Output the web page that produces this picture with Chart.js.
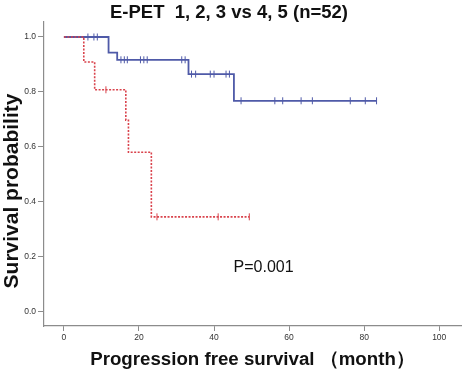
<!DOCTYPE html>
<html>
<head>
<meta charset="utf-8">
<script src="https://cdn.jsdelivr.net/npm/chart.js@4.4.0/dist/chart.umd.min.js"></script>
<style>
html, body { margin: 0; padding: 0; background: #ffffff; }
#wrap { width: 466px; height: 376px; }
</style>
</head>
<body>
<div id="wrap"><canvas id="graficoKM"></canvas></div>
<script>
// textos
const tituloGrafico = 'E-PET  1, 2, 3 vs 4, 5 (n=52)';
const rotuloX = 'Progression free survival \uFF08month\uFF09';
const rotuloY = 'Survival probability';
const textoP = 'P=0.001';

const ticksX = [0, 20, 40, 60, 80, 100];
const ticksY = [0, 0.2, 0.4, 0.6, 0.8, 1.0];

// grupo 1, 2, 3 (azul)
const azulTempoEvento = [0, 11.9, 14.2, 33.2, 45.3];
const azulSobrevivencia = [1.0, 0.943, 0.917, 0.865, 0.768];
const azulCensura = [6.4, 8.0, 8.9, 15.2, 16.1, 16.9, 20.4, 21.3, 22.2, 31.4, 32.3,
    34.0, 35.1, 39.0, 40.0, 43.2, 44.1, 47.2, 56.2, 58.3, 63.2, 66.2, 76.3, 80.3, 83.3];

// grupo 4, 5 (vermelho)
const vermTempoEvento = [0, 5.3, 8.2, 16.5, 17.2, 23.3];
const vermSobrevivencia = [1.0, 0.909, 0.808, 0.697, 0.581, 0.346];
const vermCensura = [11.2, 24.8, 41.1, 49.4];

const corAzul = '#4f5aa8';
const corVerm = '#d9434c';
const fonte = '"Liberation Sans", Arial, sans-serif';

function sobrevivenciaEm(tempos, valores, t) {
    let s = valores[0];
    for (let i = 0; i < tempos.length; i++) {
        if (tempos[i] <= t) s = valores[i];
    }
    return s;
}

function curvaDegraus(tempos, valores, censuras) {
    const pontos = tempos.map((t, i) => ({ x: t, y: valores[i] }));
    const fim = Math.max(...censuras);
    if (fim > tempos[tempos.length - 1]) {
        pontos.push({ x: fim, y: valores[valores.length - 1] });
    }
    return pontos;
}

function pontosCensura(tempos, valores, censuras) {
    return censuras.map(t => ({ x: t, y: sobrevivenciaEm(tempos, valores, t) }));
}

const pluginTextos = {
    id: 'textos',
    afterDraw(chart) {
        const ctx = chart.ctx;
        ctx.save();
        ctx.fillStyle = '#111111';
        ctx.font = 'bold 18.5px ' + fonte;
        ctx.textAlign = 'center';
        ctx.textBaseline = 'middle';
        ctx.fillText(tituloGrafico, 229, 13);

        // rotulo do eixo Y
        ctx.save();
        ctx.translate(12, 191);
        ctx.rotate(-Math.PI / 2);
        ctx.font = 'bold 21px ' + fonte;
        ctx.fillText(rotuloY, 0, 0);
        ctx.restore();

        ctx.font = '16px ' + fonte;
        ctx.textAlign = 'left';
        ctx.fillText(textoP, chart.scales.x.getPixelForValue(45.2), chart.scales.y.getPixelForValue(0.16));
        ctx.restore();
    }
};

const ctx = document.getElementById('graficoKM').getContext('2d');
const grafico = new Chart(ctx, {
    type: 'scatter',
    data: {
        datasets: [
            {
                data: curvaDegraus(vermTempoEvento, vermSobrevivencia, vermCensura),
                showLine: true,
                stepped: true,
                borderColor: corVerm,
                borderWidth: 1.6,
                borderDash: [2, 1.5],
                pointRadius: 0,
                fill: false
            },
            {
                data: pontosCensura(vermTempoEvento, vermSobrevivencia, vermCensura),
                showLine: false,
                pointStyle: 'line',
                rotation: 90,
                pointRadius: 3.5,
                borderWidth: 1,
                borderColor: corVerm,
                backgroundColor: corVerm
            },
            {
                data: curvaDegraus(azulTempoEvento, azulSobrevivencia, azulCensura),
                showLine: true,
                stepped: true,
                borderColor: corAzul,
                borderWidth: 1.8,
                pointRadius: 0,
                fill: false
            },
            {
                data: pontosCensura(azulTempoEvento, azulSobrevivencia, azulCensura),
                showLine: false,
                pointStyle: 'line',
                rotation: 90,
                pointRadius: 3.5,
                borderWidth: 1,
                borderColor: corAzul,
                backgroundColor: corAzul
            }
        ]
    },
    options: {
        responsive: true,
        maintainAspectRatio: false,
        animation: false,
        events: [],
        layout: { padding: { top: 22, right: 0, left: 0, bottom: 0 } },
        plugins: {
            legend: { display: false },
            tooltip: { enabled: false },
            title: { display: false }
        },
        scales: {
            x: {
                type: 'linear',
                min: -5.3,
                max: 105.8,
                afterBuildTicks: (scale) => { scale.ticks = ticksX.map(v => ({ value: v })); },
                afterFit: (scale) => { scale.height = 50; },
                border: { display: true, color: '#8c8c8c', width: 1.2 },
                grid: { drawOnChartArea: false, drawTicks: true, tickLength: 5, color: '#8c8c8c' },
                ticks: {
                    color: '#333333',
                    font: { family: fonte, size: 8.5 },
                    padding: 2,
                    maxRotation: 0,
                    callback: (v) => String(v)
                },
                title: {
                    display: true,
                    text: rotuloX,
                    color: '#111111',
                    font: { family: fonte, size: 18.7, weight: 'bold' },
                    padding: { top: 0, bottom: 5 }
                }
            },
            y: {
                type: 'linear',
                min: -0.051,
                max: 1.0545,
                afterBuildTicks: (scale) => { scale.ticks = ticksY.map(v => ({ value: v })); },
                afterFit: (scale) => { scale.width = 44; },
                border: { display: true, color: '#8c8c8c', width: 1.2 },
                grid: { drawOnChartArea: false, drawTicks: true, tickLength: 6, color: '#8c8c8c' },
                ticks: {
                    color: '#333333',
                    font: { family: fonte, size: 8.5 },
                    padding: 2,
                    callback: (v) => v.toFixed(1)
                },
                title: { display: false }
            }
        }
    },
    plugins: [pluginTextos]
});
</script>
</body>
</html>
